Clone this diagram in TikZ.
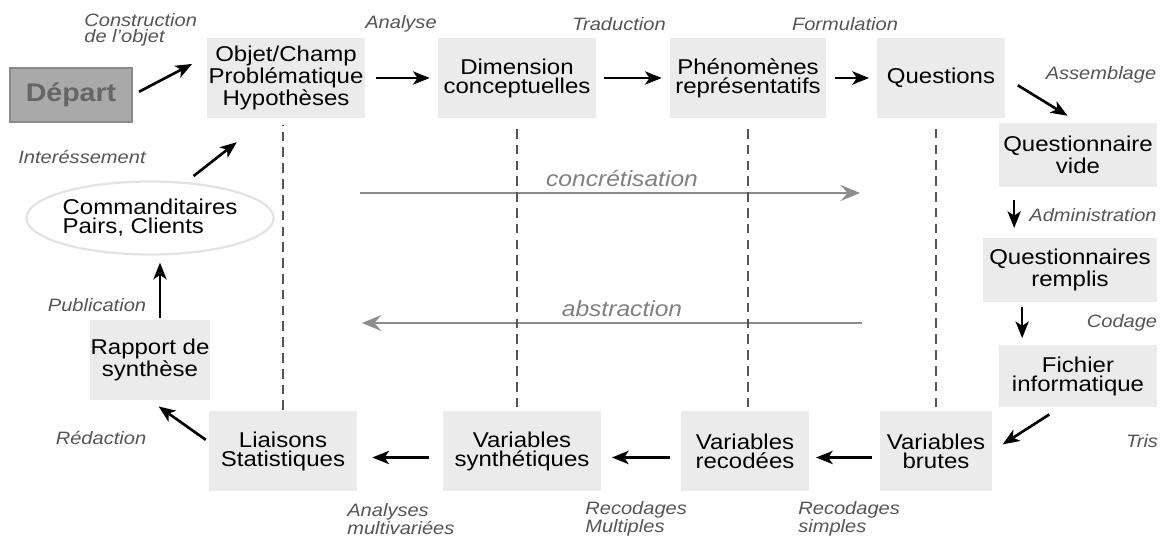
\documentclass[tikz,border=0pt]{standalone}
\usepackage{fontspec}
\setmainfont[FakeStretch=1.12]{Liberation Sans}
\usetikzlibrary{arrows.meta,shapes.geometric}

\definecolor{fondetape}{HTML}{EBEBEB}
\definecolor{fonddepart}{HTML}{A9A9A9}
\definecolor{borddepart}{HTML}{8A8A8A}
\definecolor{textedepart}{HTML}{666666}
\definecolor{gristexte}{HTML}{555555}
\definecolor{grisclair}{HTML}{808080}
\definecolor{grisfleche}{HTML}{8C8C8C}
\definecolor{grispointille}{HTML}{555555}
\definecolor{bordellipse}{HTML}{E3E3E3}

\tikzset{
  etape/.style={fill=fondetape, align=center, inner sep=0pt,
    font=\fontsize{12.2}{10.8}\selectfont},
  depart/.style={fill=fonddepart, draw=borddepart, line width=1pt, inner sep=0pt,
    text=textedepart, font=\fontsize{14.5}{14}\selectfont\bfseries},
  legende/.style={text=gristexte, inner sep=0pt,
    font=\fontsize{10.2}{8.8}\selectfont\itshape},
  fleche/.style={line width=1.5pt, -{Stealth[length=9.5pt,width=7.5pt,inset=2.5pt]}},
  flechegrise/.style={grisfleche, line width=1.6pt,
    -{Stealth[length=11pt,width=9pt,inset=4pt]}},
  pointille/.style={grispointille, line width=1.4pt, dash pattern=on 5.5pt off 3.5pt}
}

\begin{document}
\begin{tikzpicture}[x=0.02cm, y=-0.02cm]
\useasboundingbox (0,0) rectangle (1163,536);

% etapes du haut
\node[depart, minimum width=2.44cm, minimum height=1.08cm] (depart) at (71,95) {Départ};
\node[etape, minimum width=3.18cm, minimum height=1.6cm] (objet) at (286,78) {Objet/Champ\\Problématique\\Hypothèses};
\node[etape, minimum width=3.16cm, minimum height=1.6cm] (dimension) at (517,78) {Dimension\\conceptuelles};
\node[etape, minimum width=3.12cm, minimum height=1.6cm] (phenomenes) at (748,78) {Phénomènes\\représentatifs};
\node[etape, minimum width=2.58cm, minimum height=1.6cm] (questions) at (941,78) {Questions};

% colonne de droite
\node[etape, minimum width=3.18cm, minimum height=1.3cm] (vide) at (1078,155) {Questionnaire\\vide};
\node[etape, minimum width=3.5cm, minimum height=1.28cm] (remplis) at (1070,270) {Questionnaires\\remplis};
\node[etape, minimum width=3.18cm, minimum height=1.26cm] (fichier) at (1078,376) {Fichier\\informatique};

% etapes du bas
\node[etape, minimum width=2.24cm, minimum height=1.62cm] (brutes) at (936,451) {Variables\\brutes};
\node[etape, minimum width=2.58cm, minimum height=1.62cm] (recodees) at (745,451) {Variables\\recodées};
\node[etape, minimum width=3.18cm, minimum height=1.62cm] (synthetiques) at (522,451) {Variables\\synthétiques};
\node[etape, minimum width=2.96cm, minimum height=1.62cm] (liaisons) at (283,451) {Liaisons\\Statistiques};

% colonne de gauche
\node[etape, minimum width=2.42cm, minimum height=1.6cm] (rapport) at (150,360) {Rapport de\\synthèse};
\node[ellipse, draw=bordellipse, line width=1.3pt, inner sep=0pt, align=left,
  minimum width=4.44cm, minimum height=1.46cm, font=\fontsize{12.2}{10.8}\selectfont]
  (commanditaires) at (150,218) {Commanditaires\\Pairs, Clients};

% legendes
\node[legende, anchor=west, align=left] (construction) at (84,30) {Construction\\de l'objet};
\node[legende] (analyse) at (401,24) {Analyse};
\node[legende] (traduction) at (619,24) {Traduction};
\node[legende] (formulation) at (845,24) {Formulation};
\node[legende] (assemblage) at (1101,75) {Assemblage};
\node[legende] (administration) at (1093,215) {Administration};
\node[legende] (codage) at (1122,323) {Codage};
\node[legende] (tris) at (1142,441) {Tris};
\node[legende, anchor=west, align=left] (simples) at (798,519) {Recodages\\simples};
\node[legende, anchor=west, align=left] (multiples) at (585,519) {Recodages\\Multiples};
\node[legende, anchor=west, align=left] (multivariees) at (347,519) {Analyses\\multivariées};
\node[legende] (redaction) at (101,438) {Rédaction};
\node[legende] (publication) at (97,305) {Publication};
\node[legende] (interessement) at (82,157) {Interéssement};

% concretisation / abstraction
\coordinate (concA) at (360,193);
\coordinate (concB) at (860,193);
\coordinate (abstA) at (862,323);
\coordinate (abstB) at (362,323);
\draw[flechegrise] (concA) -- (concB);
\draw[flechegrise] (abstA) -- (abstB);
\node[legende, text=grisclair, font=\fontsize{12.5}{12}\selectfont\itshape] (concretisation) at (622,179) {concrétisation};
\node[legende, text=grisclair, font=\fontsize{12.5}{12}\selectfont\itshape] (abstraction) at (622,309) {abstraction};

% pointilles
\draw[pointille, shorten >=4pt] (liaisons.north) -- (liaisons.north |- objet.south);
\draw[pointille, shorten <=6pt] (dimension.south) -- (dimension.south |- synthetiques.north);
\draw[pointille, shorten <=6pt] (phenomenes.south) -- (phenomenes.south |- recodees.north);
\draw[pointille, shorten <=1.7pt, shorten >=4pt] (brutes.north) -- (brutes.north |- questions.south);

% fleches
\coordinate (va) at ([xshift=0.32cm]vide.south west);
\coordinate (rb) at ([xshift=0.8cm]remplis.south west);
\coordinate (rn) at ([xshift=0.2cm]rapport.north);

\draw[fleche, shorten <=4pt, shorten >=9pt] (depart.east) -- (objet.165);
\draw[fleche, shorten <=5.5pt, shorten >=4.5pt] (objet) -- (dimension);
\draw[fleche, shorten <=4.5pt, shorten >=4.5pt] (dimension) -- (phenomenes);
\draw[fleche, shorten <=5pt, shorten >=4pt] (phenomenes) -- (questions);
\draw[fleche, shorten <=8pt, shorten >=7pt] (questions.east) -- (vide.north);
\draw[fleche, shorten <=7pt, shorten >=5.5pt] (va) -- (va |- remplis.north);
\draw[fleche, shorten <=2.8pt, shorten >=3.4pt] (rb) -- (rb |- fichier.north);
\draw[fleche, shorten <=7pt, shorten >=7pt] (fichier.240) -- (brutes.east);
\draw[fleche, shorten <=4.5pt, shorten >=3.5pt] ([yshift=-0.13cm]brutes.west) -- ([yshift=-0.13cm]recodees.east);
\draw[fleche, shorten <=5.7pt, shorten >=5.7pt] ([yshift=-0.13cm]recodees.west) -- ([yshift=-0.13cm]synthetiques.east);
\draw[fleche, shorten <=7.4pt, shorten >=8.5pt] ([yshift=-0.13cm]synthetiques.west) -- ([yshift=-0.13cm]liaisons.east);
\draw[fleche, shorten <=2pt, shorten >=6pt] (liaisons.173) -- (rapport.south);
\draw[fleche, shorten <=1pt, shorten >=4pt] (rn) -- (rn |- commanditaires.south);
\draw[fleche, shorten <=5.5pt, shorten >=22pt] (commanditaires.45) -- (objet.245);
\end{tikzpicture}
\end{document}
